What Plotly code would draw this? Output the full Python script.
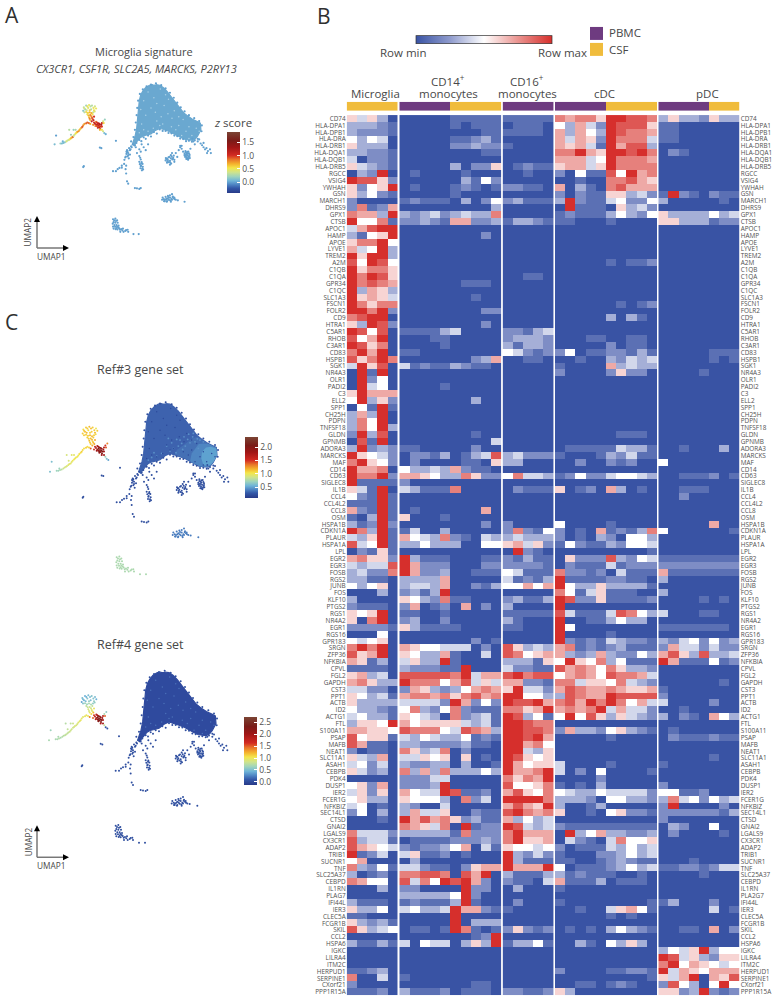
import plotly.graph_objects as go

W, H = 775, 998
GENES_LEFT = """CD74 HLA-DPA1 HLA-DPB1 HLA-DRA HLA-DRB1 HLA-DQA1 HLA-DQB1 HLA-DRB5 RGCC VSIG4 YWHAH GSN MARCH1 DHRS9 GPX1 CTSB
APOC1 HAMP APOE LYVE1 TREM2 A2M C1QB C1QA GPR34 C1QC SLC1A3 FSCN1 FOLR2 CD9 HTRA1 C5AR1 RHOB C3AR1 CD83 HSPB1 SGK1 NR4A3 OLR1 PADI2
C3 ELL2 SPP1 CH25H PDPN TNFSF18 GLDN GPNMB ADORA3 MARCKS MAF CD14 CD63 SIGLEC8 IL1B CCL4 CCL4L2 CCL8 OSM HSPA1B CDKN1A PLAUR HSPA1A LPL
EGR2 EGR3 FOSB RGS2 JUNB FOS KLF10 PTGS2 RGS1 NR4A2 EGR1 RGS16 GPR183 SRGN ZFP36 NFKBIA CPVL FGL2 GAPDH CST3 PPT1 ACTB ID2 ACTG1 FTL S100A11
PSAP MAFB NEAT1 SLC11A1 ASAH1 CEBPB PDK4 DUSP1 IER2 FCER1G NFKBIZ SEC14L1 CTSD GNAI2 LGALS9 CX3CR1 ADAP2 TRIB1 SUCNR1 TNF SLC25A37 CEBPD IL1RN PLAG7 IFI44L
IER3 CLEC5A FCGR1B SKIL CCL2 HSPA6 IGKC LILRA4 ITM2C HERPUD1 SERPINE1 CXorf21 PPP1R15A""".split()
GENES_RIGHT = [("PLA2G7" if g == "PLAG7" else g) for g in GENES_LEFT]

# Cell values: 0 = row min ... 5 = mid ... a (10) = row max. "-" = all-min row.
MICROGLIA = """64630 33321 32221 53540 63330 33221 40221 64321
032a0 a9962 6256a 63521 20000 28127 8773a a5581
479aa 3156a 688a5 745a3 a6aa3 95a95 a6886 a8a96
a8987 a3763 a6764 a8688 aa8a2 89aa0 63a92 a9590
957a0 a9680 8a7a0 968a8 4a690 0a1a0 0a250 0a450
6a777 5a362 051a1 373a0 385a0 385a3 2a390 091a0
3a232 a6542 8a652 a7780 a88a2 a1111 641a0 521a1
111a1 721a1 103a1 312a2 a83a1 436a1 945a1 02161
78662 43449 34228 33110 53560 00030 30000 21110
656a0 608a0 22221 00050 54560 8a8a0 967a0 76130
11110 67340 78633 44220 65341 63333 53321 45331
3665a 77665 95661 97110 20110 64370 45240 64230
00000 56270 46260 56330 45010 25030 00010 00000
84442 93441 97654 a1240 57000 83251 30120 87550
00030 00000 31110 63350 11000 63231 96345 00000
31131 00000 00000 00000 11230 80040 20000 11120""".split()
CD14 = """0000011111 0000010111 0000000011 0000011231 0000022322 0000000011 0000000000 0000030226
0100001000 0000003152 0100012101 0000010000 1211103025 0000000003 3234234338 2232177223
- 0000000020 - - - - - -
0000001110 - 0000000100 - 0000000022 - 0000000020 1111340000
0001100000 0000100000 1100000000 0000000237 4121132110 - - 0000100000
- 0000000300 - - - - 0000000100 0000000004
1100000200 0221301349 0200001106 5334372110 7765338622 2000000000 4311180000 -
- 0100000070 6000100000 0000000020 1400300000 7543821043 3353330055 -
a311100011 a722200022 a722300111 3333700000 3443700213 2313a00000 6532811000 2701207020
1100100000 2300200000 6311110000 - 0000000201 7655444020 6533710040 4633a10000
322211a000 999998a477 a888579464 2763235787 7887868978 44442a7252 5832582111 6543082341
7566664341 9888549873 4354335121 3322223110 8634802000 4465606010 3223303001 8373833353
2224400000 2223a00000 7544a91120 6555308240 3200400000 3744600211 a797862311 876480a122
3333318222 0111122232 2122357041 4611201000 0300000000 4421102677 88998097a0 9485a9a720
220000a220 333335a200 121113a100 45334a7721 00000a0000 00000a0333 01101a8101 000000012a
405440363a - - - - 1000000000 0000000110 3111201110""".split()
CD16 = """11111 01110 11110 00000 10000 00000 00000 01211
00100 00000 22110 00000 23111 00000 00000 13321
- - - - - - - 00110
- - - - - - - 22134
23332 31332 54212 00110 - - - -
- - - - - - - -
- 34222 33000 - 58443 - 02111 -
- - - 20000 28215 34333 67462 0a210
21311 22221 54111 41213 55757 00000 23113 30000
11111 31000 11000 - - 96343 98567 33316
42211 9a899 77221 6a442 aa553 a99a7 8867a a9351
aa988 aa998 aa9a7 aa785 aa436 a9656 a7566 a778a
8687a 95568 79658 aaaa8 7976a 9a878 73534 a9434
8a777 8a667 65545 a3242 a3111 a777a 31113 21104
03000 - 02000 10000 - - 26212 -
13351 - - - - - - 22112""".split()
CDC = """87886aa998 53742a9996 73753a9887 74762a8884 76741a7993 88a76aa9a8 77745a8887 67746a8888
2051195a78 0010088976 7031089777 2021166342 3a21145225 0a11106342 1211135325 1100010000
- - - - - 0000010112 - -
- - - 0000001012 - 0000030310 - -
0001100110 0000020110 2501122131 0010032434 1000073433 2000026220 - -
- - - - - - 0000001110 -
0111114331 1000132411 0020021200 - 1252245543 - 6012073010 -
- - - 5000010000 2010712138 2010320553 1521132554 0000000001
0622293254 0211141222 8221204111 a111122110 a533633331 8514611100 a922611112 a000000000
9411149853 a001135330 a500000000 a000010000 a212143221 7812123111 7323732253 5a65835111
9787586332 5787598874 8846658432 7987787667 39877a9999 897a8a8574 7878a47442 5a59636432
- 2733256321 0000010000 - - - 4000010000 4020500001
0000200000 1010300000 5433544442 3332055332 3001300000 6001056221 - 2111111111
0a35733223 0421048556 2011143534 1000223534 1100123211 5011123534 3121110010 7111301110
1000000000 - 1000000001 0010046751 0000010100 - 0101035321 -
0031053630 - - - 2000011221 0000000001 0011012100 6300000000""".split()
PDC = """36332633 11000000 11000000 11000000 - 02100000 - -
- - - 1a210211 30000010 - 63333534 66333122
- - - - - - - -
- - - - - - - -
- - 00000111 00000101 - 00001000 - -
- - - - - - - -
00100030 - 50000000 - 00111201 - 00111000 00200000
- - - 00000700 50000001 - - -
11111111 22222222 71111111 30000000 - 30000000 00001010 -
40001100 - 11111110 - 32452523 27442422 79639334 a7111512
- - 00000010 10000000 20000000 40000200 00100000 30210753
- 01000000 02111211 - - 00000100 10000000 -
- 20000000 55112000 38452534 2a000020 22222213 20000000 03200500
02000010 - - - 00010000 11221244 00001000 -
- - 13000200 00000401 - - 00110702 -
- 3546a355 a9463266 8a576545 a4765777 647a0769 295305a5 6623a212""".split()

# 0 = PBMC, 1 = CSF for every column of each block
COND_MICROGLIA = [1, 1, 1, 1, 1]
COND_CD14 = [0, 0, 0, 0, 0, 1, 1, 1, 1, 1]
COND_CD16 = [0, 0, 0, 0, 0]
COND_CDC = [0, 0, 0, 0, 0, 1, 1, 1, 1, 1]
COND_PDC = [0, 0, 0, 0, 0, 1, 1, 1]

# UMAP coordinates (arbitrary units, UMAP2 axis runs downward)
BODY_U = [497, 510, 522, 535, 548, 560, 572, 583, 592, 606, 622, 637, 649, 651, 646, 640, 632, 622, 610, 597, 583, 570, 556, 540, 525, 510, 495, 480, 466, 453, 443, 435, 428, 423, 416, 420, 426, 431, 434, 436, 437, 440, 445, 452, 462, 475, 487]
BODY_V = [190, 192, 200, 213, 230, 246, 262, 277, 287, 298, 309, 316, 322, 345, 356, 366, 376, 381, 380, 378, 371, 364, 356, 350, 344, 340, 347, 359, 363, 366, 372, 380, 390, 400, 395, 383, 365, 340, 312, 290, 270, 245, 225, 212, 200, 192, 190]
GLOW1_U = [555, 575, 592, 606, 622, 637, 649, 651, 646, 640, 632, 622, 610, 597, 583, 570, 556, 540, 525, 530]
GLOW1_V = [312, 296, 290, 300, 309, 316, 322, 345, 356, 366, 376, 381, 380, 378, 371, 364, 356, 350, 344, 330]
GLOW2_U = [596, 612, 626, 637, 649, 651, 646, 640, 632, 622, 610, 597, 583, 570, 575]
GLOW2_V = [312, 310, 312, 317, 323, 345, 356, 366, 376, 381, 380, 378, 371, 364, 340]
GLOW3_U = [618, 632, 649, 651, 646, 640, 632, 622, 610, 604, 606]
GLOW3_V = [322, 320, 325, 345, 356, 366, 374, 378, 374, 355, 335]

OUT_U = [418, 412, 405, 400, 408, 396, 402, 392, 398, 388, 380, 372, 366, 380, 350, 360, 395, 393, 395, 398, 402, 425, 432, 440, 445,
         428, 440, 432, 445, 440, 445, 440, 447, 445, 452, 450, 455, 470, 462, 448,
         530, 535, 540, 545, 548, 552, 555, 560, 545, 535, 565, 575, 580, 570, 585, 590, 598, 602, 608, 612, 600, 610, 605, 595, 615, 580, 585,
         640, 650, 655, 660, 665, 670, 675, 682, 685, 672, 660, 645, 630, 625, 622, 360, 310, 250, 248, 305,
         402, 396, 400, 408, 394, 404, 398, 410, 414, 389, 442, 446, 449, 444, 451, 448, 443, 453,
         598, 604, 610, 600, 606, 612, 597, 603, 609, 601, 607, 595, 613, 604,
         533, 538, 543, 548, 553, 558, 536, 541, 546, 551, 556, 531, 549, 560,
         430, 440, 455, 470, 490, 510, 530, 550, 570, 590, 610, 630, 425, 447, 462, 480, 500, 520, 540, 560, 580, 600, 620, 640,
         497, 480, 465, 452, 442, 436, 433, 431, 428, 425, 420, 412, 515, 530, 545, 558, 570, 582, 595, 610, 628, 645, 654, 653]
OUT_V = [395, 402, 408, 418, 415, 428, 432, 440, 422, 462, 468, 476, 480, 475, 487, 487, 468, 480, 495, 522, 530, 545, 546, 548, 545,
         405, 412, 425, 420, 435, 447, 455, 460, 470, 472, 478, 405, 395, 415, 395,
         450, 458, 440, 452, 432, 425, 445, 455, 465, 445, 425, 415, 405, 438, 400, 420, 418, 425, 420, 430, 435, 438, 445, 428, 410, 400, 410,
         385, 392, 398, 405, 412, 408, 418, 412, 425, 425, 390, 378, 395, 385, 375, 383, 408, 470, 473, 406,
         425, 420, 436, 430, 437, 443, 415, 412, 405, 448, 463, 468, 484, 477, 462, 456, 441, 481,
         423, 421, 426, 431, 434, 435, 438, 440, 443, 445, 448, 433, 442, 428,
         445, 449, 438, 443, 447, 434, 453, 456, 458, 437, 441, 442, 461, 448,
         390, 380, 371, 365, 353, 344, 349, 357, 367, 377, 383, 381, 398, 384, 376, 368, 358, 349, 356, 365, 375, 384, 386, 376,
         186, 190, 196, 206, 222, 245, 270, 295, 320, 345, 370, 385, 192, 203, 218, 235, 252, 268, 282, 295, 305, 315, 330, 350]
ISLE_U = [520, 528, 535, 542, 550, 558, 565, 545, 555, 535, 525, 545, 572, 595, 530, 524, 532, 539, 547, 554, 561, 527, 540, 552, 518, 534, 548, 560, 538, 552]
ISLE_V = [578, 585, 590, 586, 583, 580, 585, 578, 574, 580, 590, 570, 587, 592, 575, 583, 583, 583, 588, 577, 583, 590, 576, 585, 585, 592, 592, 578, 572, 566]
CRES_U = [350, 358, 364, 352, 358, 355, 362, 362, 368, 374, 382, 392, 402, 400, 420, 438, 354, 360, 349, 366, 350, 357, 364, 359, 365, 371, 378, 386, 395, 369, 352, 375, 384]
CRES_V = [652, 650, 656, 662, 664, 672, 672, 682, 680, 688, 690, 692, 695, 688, 703, 703, 656, 658, 667, 664, 677, 678, 677, 686, 687, 683, 686, 695, 689, 674, 684, 695, 684]
SPECK_U = [470, 512, 540, 455, 490, 525, 560, 445, 480, 515, 552, 590, 462, 500, 538, 575, 610, 448, 488, 520, 565, 600, 635, 470, 510, 550, 585, 620, 500, 455, 530, 610, 440, 575, 645, 495]
SPECK_V = [215, 205, 240, 245, 235, 262, 280, 275, 270, 300, 305, 310, 295, 315, 290, 330, 335, 325, 340, 325, 345, 350, 340, 350, 330, 335, 365, 365, 255, 345, 225, 375, 355, 300, 350, 285]
LIGHT_U = [520, 535, 548, 510, 528, 556, 570, 585, 500, 515, 545, 563, 578, 592, 485, 470, 455, 462, 445, 540, 552, 566, 580, 600, 610, 595, 530, 505]
LIGHT_V = [325, 318, 328, 333, 338, 318, 308, 305, 318, 308, 310, 298, 290, 296, 340, 348, 352, 338, 360, 300, 290, 282, 280, 300, 305, 325, 298, 295]

CL_U = [250, 258, 268, 278, 288, 292, 285, 275, 265, 255, 248, 258, 270, 282, 262, 272, 280, 268, 278, 285, 272, 283,
        262, 252, 245, 238, 232, 225, 218, 212, 205, 198, 190, 180, 170, 150, 200, 215, 178, 155,
        285, 292, 298, 305, 312, 300, 292, 308, 316, 322, 298, 306, 312, 320, 325, 282, 272, 302, 295,
        252, 262, 273, 283, 270, 260, 252, 264, 276, 287, 266, 276, 270, 280, 277, 267,
        258, 248, 242, 235, 228, 222, 215, 208, 201, 194, 185, 206, 222, 175,
        288, 295, 302, 310, 296, 304, 298, 290, 312, 305, 316, 318]
CL_V = [268, 262, 260, 262, 265, 272, 278, 275, 270, 275, 280, 284, 285, 285, 292, 295, 292, 302, 304, 300, 312, 312,
        320, 325, 335, 342, 350, 355, 362, 370, 375, 380, 385, 390, 392, 395, 345, 345, 385, 365,
        320, 318, 322, 326, 322, 330, 328, 334, 316, 310, 338, 340, 345, 356, 360, 328, 325, 336, 332,
        272, 265, 265, 270, 278, 278, 285, 287, 288, 282, 296, 299, 307, 308, 316, 322,
        323, 330, 338, 346, 352, 358, 366, 372, 378, 382, 388, 362, 345, 392,
        324, 320, 324, 328, 326, 332, 334, 332, 334, 345, 350, 322]
CL_Z_MICROGLIA = [0.35, 0.2, 0.5, 0.3, 0.4, 0.5, 0.55, 0.3, 0.45, 0.2, 0.15, 0.6, 0.7, 0.35, 0.5, 0.8, 0.55, 0.65, 0.9, 1.0, 0.6, 1.05,
                  0.9, 0.75, 0.95, 0.6, 0.8, 0.55, 0.35, 1.0, 0.7, 0.4, 0.45, 0.1, 0.2, 0.1, 0.3, 0.2, 0.05, 0.0,
                  1.0, 0.85, 1.1, 1.3, 1.15, 1.2, 1.05, 1.1, 0.4, 0.2, 1.15, 0.9, 0.55, 0.1, 0.05, 0.8, 0.7, 1.2, 1.05,
                  0.4, 0.5, 0.3, 0.5, 0.6, 0.4, 0.3, 0.6, 0.7, 0.45, 0.7, 0.8, 0.85, 0.95, 1.1, 0.9,
                  0.9, 0.8, 0.85, 0.7, 0.75, 0.55, 0.4, 0.7, 0.5, 0.35, 0.15, 0.2, 0.25, 0.1,
                  1.1, 1.0, 1.15, 1.2, 1.1, 1.0, 0.95, 0.85, 1.0, 0.7, 0.4, 0.6]
CL_Z_REF3 = [1.05, 1.1, 1.15, 1.1, 1.0, 1.1, 1.15, 1.1, 1.05, 1.15, 1.1, 1.1, 1.15, 1.1, 1.1, 1.15, 1.1, 1.15, 1.1, 1.2, 1.1, 1.2,
             1.05, 1.05, 1.1, 1.05, 1.0, 1.0, 1.0, 0.95, 0.95, 0.9, 0.85, 0.75, 0.7, 0.6, 0.9, 0.95, 0.7, 0.6,
             1.6, 1.7, 1.8, 1.9, 1.7, 2.0, 1.8, 2.0, 1.5, 1.3, 1.9, 2.0, 1.8, 0.6, 0.5, 1.5, 1.4, 1.9, 1.8,
             1.1, 1.1, 1.15, 1.1, 1.1, 1.15, 1.1, 1.1, 1.15, 1.05, 1.1, 1.15, 1.1, 1.15, 1.2, 1.1,
             1.1, 1.05, 1.05, 1.0, 1.0, 1.0, 0.95, 0.95, 0.9, 0.9, 0.8, 0.9, 0.95, 0.7,
             1.7, 1.8, 1.9, 1.8, 2.0, 2.0, 2.0, 1.8, 1.8, 1.8, 0.7, 1.4]
CL_Z_REF4 = [0.5, 0.45, 0.5, 0.55, 0.5, 0.45, 0.6, 0.5, 0.55, 0.45, 0.4, 0.65, 0.7, 0.6, 0.8, 0.85, 0.8, 0.9, 0.95, 1.0, 1.0, 1.2,
             1.0, 0.95, 1.0, 0.95, 0.9, 0.9, 0.85, 0.85, 0.8, 0.8, 0.75, 0.75, 0.7, 0.7, 0.75, 0.8, 0.7, 0.65,
             1.6, 1.8, 2.0, 2.2, 1.9, 2.3, 1.9, 2.3, 0.7, 0.6, 2.2, 2.3, 2.0, 0.1, 0.1, 1.5, 1.4, 2.3, 2.1,
             0.5, 0.45, 0.5, 0.55, 0.6, 0.5, 0.55, 0.65, 0.7, 0.6, 0.8, 0.85, 0.9, 0.95, 1.1, 1.0,
             1.0, 0.95, 0.95, 0.9, 0.9, 0.85, 0.85, 0.8, 0.8, 0.75, 0.7, 0.8, 0.85, 0.7,
             1.8, 2.0, 2.2, 2.0, 2.3, 2.3, 2.3, 1.9, 2.0, 1.9, 0.8, 1.5]

FONT = "Open Sans"
TEXT = "#484848"
PURPLE, YELLOW = "#6e3b80", "#f0bc3c"
HEAT_SCALE = [[0, "#3953a4"], [0.25, "#8f9bcd"], [0.5, "#ffffff"], [0.75, "#ea9490"], [1, "#d62f2c"]]
JET = [[0, "#283a88"], [0.08, "#3358a8"], [0.14, "#4f86c4"], [0.2, "#6fb4d8"], [0.27, "#9fd4bc"], [0.34, "#cfe48c"],
       [0.41, "#f4e64a"], [0.48, "#f4b02c"], [0.55, "#e8742a"], [0.62, "#d22a22"], [0.75, "#a01616"], [0.86, "#7a1c18"], [1, "#7b4434"]]


def fx(px):
    return px / W


def fy(py):
    return 1 - py / H


def decode(rows, width):
    out = []
    for r in rows:
        r = "0" * width if r == "-" else r
        assert len(r) == width, r
        out.append([int(c, 16) for c in r])
    return out


blocks = [(MICROGLIA, COND_MICROGLIA, 346.7, 397.7), (CD14, COND_CD14, 399.3, 501.3), (CD16, COND_CD16, 502.6, 553.7),
          (CDC, COND_CDC, 555.0, 657.0), (PDC, COND_PDC, 658.3, 739.7)]
assert len(GENES_LEFT) == 128
for b in blocks:
    assert len(b[0]) == 128
assert len(CL_U) == len(CL_V) == len(CL_Z_MICROGLIA) == len(CL_Z_REF3) == len(CL_Z_REF4)
assert len(OUT_U) == len(OUT_V) and len(ISLE_U) == len(ISLE_V) and len(CRES_U) == len(CRES_V) and len(LIGHT_U) == len(LIGHT_V)

HEAT_TOP, HEAT_BOTTOM = 114.3, 996.5
fig = go.Figure()
layout = {}
rows_idx = list(range(128))
for i, (rows, cond, x0, x1) in enumerate(blocks):
    n = i + 1
    xname = "x" if n == 1 else f"x{n}"
    layout["xaxis" if n == 1 else f"xaxis{n}"] = dict(domain=[fx(x0), fx(x1)], range=[-0.5, len(cond) - 0.5], visible=False,
                                                     anchor="y" if n != 5 else "y2", fixedrange=True)
    fig.add_trace(go.Heatmap(z=decode(rows, len(cond)), x=list(range(len(cond))), y=rows_idx, coloraxis="coloraxis",
                             xaxis=xname, yaxis="y2" if n == 5 else "y", hoverinfo="skip"))
    fig.add_trace(go.Heatmap(z=[cond], x=list(range(len(cond))), y=[0], zmin=0, zmax=1, showscale=False,
                             colorscale=[[0, PURPLE], [1, YELLOW]], xaxis=xname, yaxis="y3", hoverinfo="skip"))

ydom = [fy(HEAT_BOTTOM), fy(HEAT_TOP)]
tick = dict(tickfont=dict(family=FONT, size=6.4, color="#505050"), ticks="", showgrid=False, zeroline=False, showline=False,
            tickmode="array", tickvals=rows_idx, range=[127.5, -0.5], domain=ydom, fixedrange=True, ticklabelstandoff=0)
layout["yaxis"] = dict(tick, ticktext=GENES_LEFT, anchor="x", side="left")
layout["yaxis2"] = dict(tick, ticktext=GENES_RIGHT, anchor="x5", side="right")
layout["yaxis3"] = dict(domain=[fy(110), fy(101)], visible=False, anchor="x", range=[-0.5, 0.5], fixedrange=True)

# UMAP panels: (x px at u=0, x px at u=930, y px at v=0, y px at v=990)
panels = [
    dict(x0=10.8, x1=282.4, y0=28.3, y1=317.4, body="#6aa8d0", glows=[], light=None, speck="#a9d0e6", zmin=-0.4, zmax=1.9,
         out=0.0, isle=0.0, cres=0.0, cl=CL_Z_MICROGLIA, size=2.2, cb=(227, 131, 61, 13), ticks=[0, 0.5, 1, 1.5]),
    dict(x0=0, x1=310, y0=340, y1=670, body="#3d62ae", glows=["#4470b5", "#4f86c2", "#5ea2d0"], light="#5a90c8", speck="#2d4b9c", zmin=0.09, zmax=2.37,
         out=0.22, isle=0.38, cres=0.75, cl=CL_Z_REF3, size=2.0, cb=(245, 437, 61, 12.5), ticks=[0.5, 1, 1.5, 2]),
    dict(x0=-1, x1=309, y0=609, y1=939, body="#2f4a9e", glows=[], light=None, speck="#4a6fb8", zmin=-0.12, zmax=2.75,
         out=0.05, isle=0.05, cres=0.05, cl=CL_Z_REF4, size=2.0, cb=(244, 717, 68, 12.5), ticks=[0, 0.5, 1, 1.5, 2, 2.5]),
]
GLOWS = [(GLOW1_U, GLOW1_V), (GLOW2_U, GLOW2_V), (GLOW3_U, GLOW3_V)]
for k, p in enumerate(panels):
    xn, yn = 6 + k, 4 + k
    u0, u1 = 0, 930
    x0 = p["x0"]
    if x0 < 0:  # keep domain inside the page
        u0 = -x0 * 3
        x0 = 0
    layout[f"xaxis{xn}"] = dict(domain=[fx(x0), fx(p["x1"])], range=[u0, u1], visible=False, anchor=f"y{yn}", fixedrange=True)
    layout[f"yaxis{yn}"] = dict(domain=[fy(p["y1"]), fy(p["y0"])], range=[990, 0], visible=False, anchor=f"x{xn}", fixedrange=True)
    ax = dict(xaxis=f"x{xn}", yaxis=f"y{yn}", hoverinfo="skip", showlegend=False)
    fig.add_trace(go.Scatter(x=BODY_U, y=BODY_V, mode="lines", fill="toself", fillcolor=p["body"],
                             line=dict(color=p["body"], width=1.2), **ax))
    for (gu, gv), col in zip(GLOWS, p["glows"]):
        fig.add_trace(go.Scatter(x=gu, y=gv, mode="lines", fill="toself", fillcolor=col, line=dict(color=col, width=0), **ax))
    if p["light"]:
        fig.add_trace(go.Scatter(x=LIGHT_U, y=LIGHT_V, mode="markers", marker=dict(size=1.8, color=p["light"]), **ax))
    fig.add_trace(go.Scatter(x=SPECK_U, y=SPECK_V, mode="markers", marker=dict(size=1.5, color=p["speck"]), **ax))
    scale = dict(colorscale=JET, cmin=p["zmin"], cmax=p["zmax"], size=p["size"], line=dict(width=0))
    for us, vs, val in [(OUT_U, OUT_V, p["out"]), (ISLE_U, ISLE_V, p["isle"]), (CRES_U, CRES_V, p["cres"])]:
        fig.add_trace(go.Scatter(x=us, y=vs, mode="markers", marker=dict(color=[val] * len(us), **scale), **ax))
    cbx, cby, cbl, cbt = p["cb"]
    fig.add_trace(go.Scatter(x=CL_U, y=CL_V, mode="markers",
                             marker=dict(color=p["cl"], showscale=True, **scale,
                                         colorbar=dict(x=fx(cbx), xanchor="left", y=fy(cby), yanchor="top", len=cbl, lenmode="pixels",
                                                       thickness=cbt, thicknessmode="pixels", xpad=0, ypad=0, outlinewidth=0,
                                                       tickmode="array", tickvals=p["ticks"], ticktext=[f"{t:.1f}" for t in p["ticks"]],
                                                       ticks="inside", ticklen=3, tickcolor="white", tickwidth=1,
                                                       tickfont=dict(family=FONT, size=8.5, color="#505050"))), **ax))


def label(text, x, y, size=13, anchor="center", color=TEXT, angle=0):
    return dict(text=text, x=fx(x), y=fy(y), xref="paper", yref="paper", showarrow=False, xanchor=anchor, yanchor="middle",
                align=anchor, textangle=angle, font=dict(family=FONT, size=size, color=color))


ann = [
    label("A", 3, 14.5, 21, "left", "#303030"), label("B", 315, 15, 21, "left", "#303030"), label("C", 3, 322, 21, "left", "#303030"),
    label("Microglia signature", 143.5, 51, 11), label("<i>CX3CR1, CSF1R, SLC2A5, MARCKS, P2RY13</i>", 136.5, 68, 11),
    label("<i>z</i> score", 233, 122, 11.5), label("Ref#3 gene set", 140, 369, 12.5), label("Ref#4 gene set", 140, 645, 12.5),
    label("UMAP1", 51, 256, 8.3), label("UMAP2", 28, 232, 8.3, angle=-90), label("UMAP1", 51, 866, 8.3), label("UMAP2", 28, 843, 8.3, angle=-90),
    label("Row min", 403, 52, 11.5), label("Row max", 562, 52, 11.5), label("PBMC", 607, 32, 11.5, "left"), label("CSF", 607, 49, 11.5, "left"),
    label("Microglia", 375, 93, 11.5), label("CD14<sup>+</sup>", 448, 80, 11.5), label("monocytes", 448, 93, 11.5),
    label("CD16<sup>+</sup>", 527, 80, 11.5), label("monocytes", 527, 93, 11.5), label("cDC", 604, 93, 11.5), label("pDC", 707, 93, 11.5),
]

shapes = []


def rect(x0, y0, x1, y1, color):
    shapes.append(dict(type="rect", xref="paper", yref="paper", x0=fx(x0), x1=fx(x1), y0=fy(y0), y1=fy(y1), fillcolor=color, line_width=0))


rect(590, 26, 603, 39, PURPLE)
rect(590, 42, 603, 55, YELLOW)
for ox, oy in [(37, 247.5), (37, 858)]:
    shapes.append(dict(type="line", xref="paper", yref="paper", x0=fx(ox), x1=fx(ox + 27), y0=fy(oy), y1=fy(oy), line=dict(color="#777777", width=1.5)))
    shapes.append(dict(type="line", xref="paper", yref="paper", x0=fx(ox), x1=fx(ox), y0=fy(oy), y1=fy(oy - 27), line=dict(color="#777777", width=1.5)))
    shapes.append(dict(type="path", xref="paper", yref="paper", fillcolor="black", line_width=0,
                       path=f"M {fx(ox + 26)} {fy(oy - 3)} L {fx(ox + 32)} {fy(oy)} L {fx(ox + 26)} {fy(oy + 3)} Z"))
    shapes.append(dict(type="path", xref="paper", yref="paper", fillcolor="black", line_width=0,
                       path=f"M {fx(ox - 3)} {fy(oy - 26)} L {fx(ox)} {fy(oy - 32)} L {fx(ox + 3)} {fy(oy - 26)} Z"))

fig.update_layout(
    width=W, height=H, autosize=False, margin=dict(l=0, r=0, t=0, b=0), paper_bgcolor="white", plot_bgcolor="white", showlegend=False,
    coloraxis=dict(colorscale=HEAT_SCALE, cmin=0, cmax=10,
                   colorbar=dict(orientation="h", x=fx(484), xanchor="center", y=fy(39), yanchor="middle", len=136, lenmode="pixels",
                                 thickness=8, thicknessmode="pixels", xpad=0, ypad=0, outlinewidth=0.7, outlinecolor="#333333",
                                 ticks="", showticklabels=False)),
    annotations=ann, shapes=shapes, **layout)

fig.write_html("out.html", post_script="document.body.style.margin='0';", config=dict(displayModeBar=False))
